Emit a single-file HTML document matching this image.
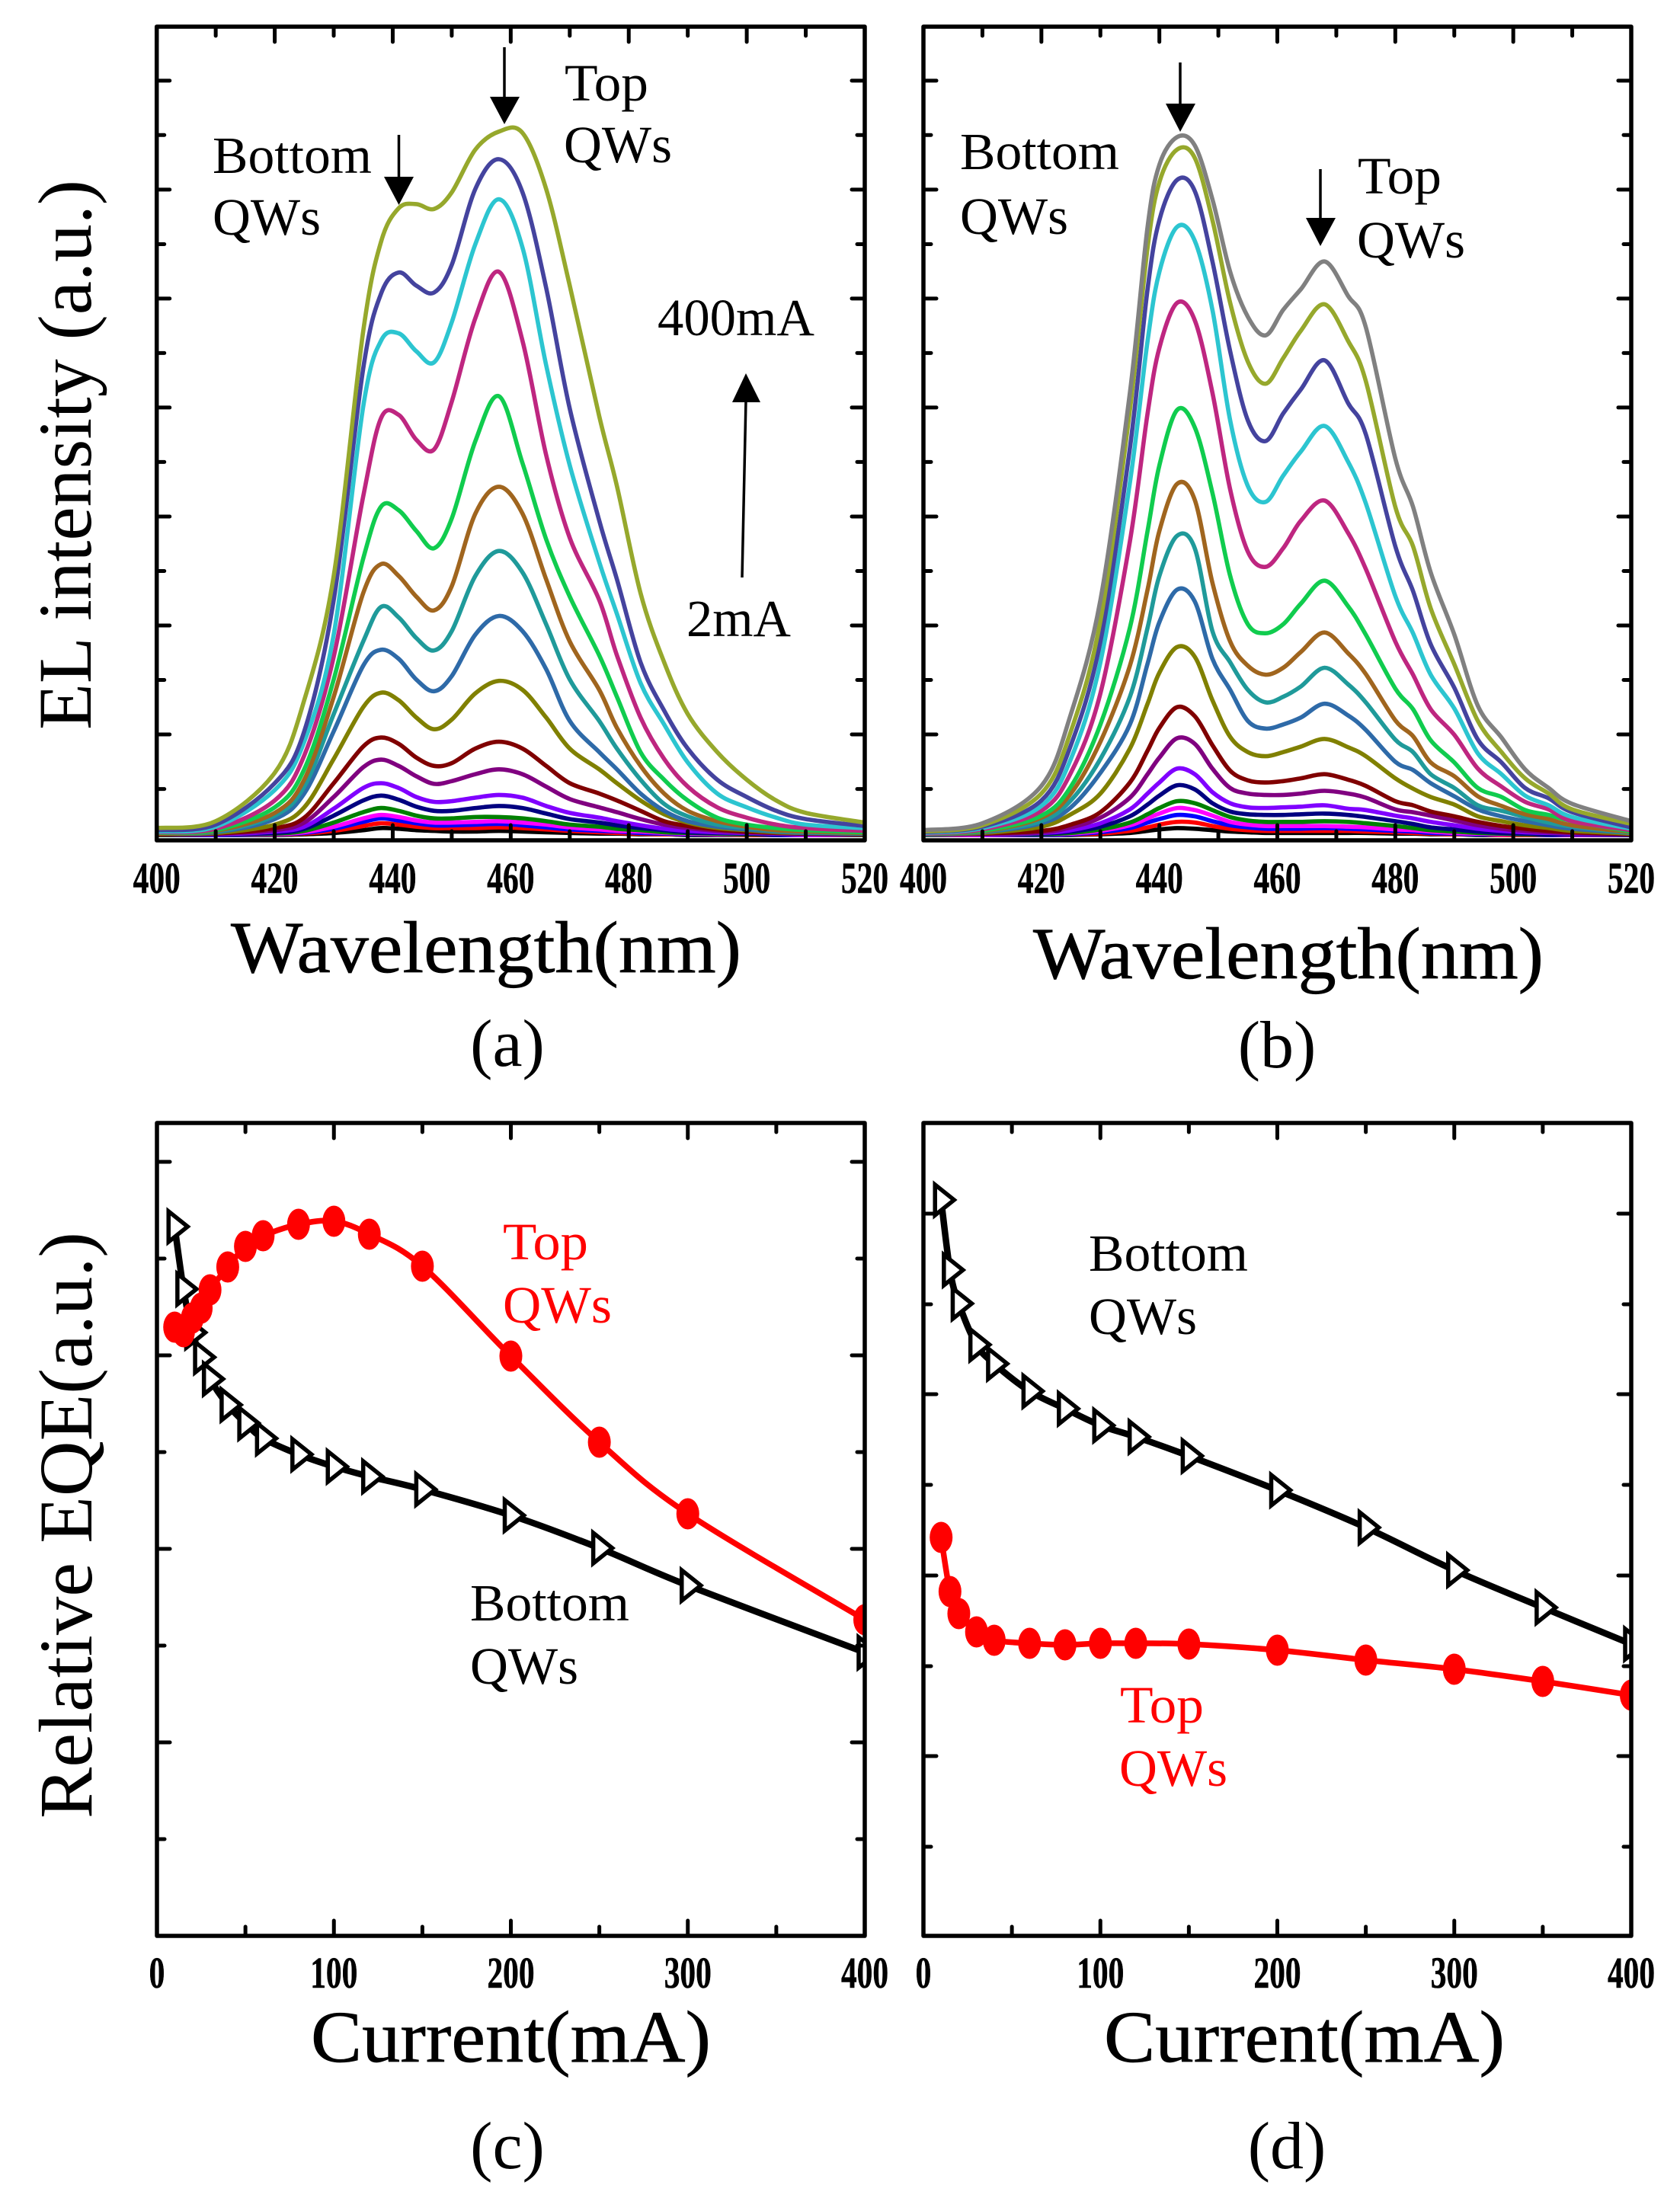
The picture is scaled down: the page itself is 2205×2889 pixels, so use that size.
<!DOCTYPE html>
<html lang="en">
<head>
<meta charset="utf-8">
<title>EL spectra and relative EQE of top and bottom QWs</title>
<style>
html,body{margin:0;padding:0;background:#fff;}
svg{display:block;}
text{font-family:"Liberation Serif","Times New Roman",serif;fill:#000;}
.tick{font-weight:bold;font-size:58px;text-anchor:middle;stroke:#000;stroke-width:0.6px;}
.ann{font-size:69px;}
.red{fill:#f00;}
.axt{font-size:100px;}
.ttl{font-size:96px;stroke:#000;stroke-width:0.7px;}
</style>
</head>
<body>
<svg id="fig" width="2205" height="2889" viewBox="0 0 2205 2889" xmlns="http://www.w3.org/2000/svg">
<defs>
<clipPath id="clipA"><rect x="205.7" y="35" width="929.3" height="1068"/></clipPath>
<clipPath id="clipB"><rect x="1212" y="35" width="929" height="1068"/></clipPath>
<clipPath id="clipC"><rect x="206" y="1474" width="929" height="1067"/></clipPath>
<clipPath id="clipD"><rect x="1212" y="1474" width="929" height="1067"/></clipPath>
</defs>
<g id="panelA"></g>
<g id="panelB"></g>
<g id="panelC"></g>
<g id="panelD"></g>

<text class="axt" transform="translate(119,958) rotate(-90)" textLength="722" lengthAdjust="spacingAndGlyphs">EL intensity (a.u.)</text>
<text class="axt" transform="translate(120,2387) rotate(-90)" textLength="770" lengthAdjust="spacingAndGlyphs">Relative EQE(a.u.)</text>

<text class="ttl" x="303" y="1276" textLength="670" lengthAdjust="spacingAndGlyphs">Wavelength(nm)</text>
<text class="ttl" x="1356" y="1284" textLength="670" lengthAdjust="spacingAndGlyphs">Wavelength(nm)</text>
<text class="ttl" x="408" y="2706" textLength="525" lengthAdjust="spacingAndGlyphs">Current(mA)</text>
<text class="ttl" x="1449" y="2706" textLength="526" lengthAdjust="spacingAndGlyphs">Current(mA)</text>

<text x="666" y="1399" font-size="88" text-anchor="middle">(a)</text>
<text x="1676" y="1401" font-size="88" text-anchor="middle">(b)</text>
<text x="666" y="2846" font-size="88" text-anchor="middle">(c)</text>
<text x="1689" y="2846" font-size="88" text-anchor="middle">(d)</text>

<g>
<text class="ann" x="279" y="227" textLength="209" lengthAdjust="spacingAndGlyphs">Bottom</text>
<text class="ann" x="279" y="308" textLength="142" lengthAdjust="spacingAndGlyphs">QWs</text>
<text class="ann" x="741" y="132" textLength="110" lengthAdjust="spacingAndGlyphs">Top</text>
<text class="ann" x="740" y="213" textLength="142" lengthAdjust="spacingAndGlyphs">QWs</text>
<text class="ann" x="863" y="440" textLength="206" lengthAdjust="spacingAndGlyphs">400mA</text>
<text class="ann" x="901" y="835" textLength="137" lengthAdjust="spacingAndGlyphs">2mA</text>
<g><line x1="662" y1="62" x2="662" y2="130" stroke="#000" stroke-width="3.5"/><polygon points="643,127 682,127 662,163"/></g>
<g><line x1="523.5" y1="177" x2="523.5" y2="236" stroke="#000" stroke-width="3.5"/><polygon points="504,232 543,232 523.5,269"/></g>
<g><line x1="974" y1="758" x2="979" y2="525" stroke="#000" stroke-width="3.5"/><polygon points="961,528 998,528 979,490"/></g>
</g>

<g>
<text class="ann" x="1260" y="222" textLength="209" lengthAdjust="spacingAndGlyphs">Bottom</text>
<text class="ann" x="1260" y="307" textLength="142" lengthAdjust="spacingAndGlyphs">QWs</text>
<text class="ann" x="1782" y="254" textLength="110" lengthAdjust="spacingAndGlyphs">Top</text>
<text class="ann" x="1781" y="338" textLength="142" lengthAdjust="spacingAndGlyphs">QWs</text>
<g><line x1="1549" y1="82" x2="1549" y2="139" stroke="#000" stroke-width="3.5"/><polygon points="1530,136 1569,136 1549,173"/></g>
<g><line x1="1733" y1="222" x2="1733" y2="289" stroke="#000" stroke-width="3.5"/><polygon points="1714,286 1753,286 1733,323"/></g>
</g>

<g>
<text class="ann red" x="660" y="1653" textLength="112" lengthAdjust="spacingAndGlyphs">Top</text>
<text class="ann red" x="660" y="1736" textLength="143" lengthAdjust="spacingAndGlyphs">QWs</text>
<text class="ann" x="617" y="2127" textLength="209" lengthAdjust="spacingAndGlyphs">Bottom</text>
<text class="ann" x="617" y="2210" textLength="142" lengthAdjust="spacingAndGlyphs">QWs</text>
</g>

<g>
<text class="ann" x="1429" y="1668" textLength="209" lengthAdjust="spacingAndGlyphs">Bottom</text>
<text class="ann" x="1429" y="1751" textLength="142" lengthAdjust="spacingAndGlyphs">QWs</text>
<text class="ann red" x="1470" y="2261" textLength="110" lengthAdjust="spacingAndGlyphs">Top</text>
<text class="ann red" x="1469" y="2344" textLength="142" lengthAdjust="spacingAndGlyphs">QWs</text>
</g>
</svg>

<script>
// ---------- Panel (a): EL spectra ----------
const wavelengthsA = [400,410,420,425,430,435,438,441,444,447,450,454,458,462,466,470,475,478,482,486,490,495,500,505,510,520];
const aBlack   = [0,0,0,1,3,7,10,9,7,6,5,5,6,5,4,3,2,2,1,1,0,0,0,0,0,0];
const aRed     = [0,0,1,2,6,13,17,15,12,10,10,10,11,10,8,6,4,3,2,1,1,1,0,0,0,0];
const aBlue    = [0,0,1,3,9,19,24,21,17,14,14,15,16,14,11,8,6,5,3,2,1,1,1,0,0,0];
const aMagenta = [0,1,1,4,12,24,29,26,21,18,18,19,20,18,15,11,8,6,5,3,2,1,1,1,0,0];
const aGreenDk = [0,1,2,6,18,33,39,35,28,24,24,26,26,24,20,15,12,9,7,4,3,2,1,1,1,0];
const aNavy    = [1,1,3,9,28,50,57,51,41,35,35,39,42,39,31,23,18,14,10,7,4,3,2,1,1,1];
const aViolet  = [1,1,5,12,38,68,75,68,55,48,49,54,58,54,42,32,25,20,14,9,6,4,3,2,1,1];
const aPurple  = [1,2,7,18,55,98,109,100,85,74,78,88,95,88,70,52,40,33,23,15,10,6,4,3,2,1];
const aMaroon  = [1,2,10,25,75,128,141,132,112,100,104,125,135,125,100,75,60,50,35,20,13,8,5,3,2,1];
const aOliveDk = [2,3,15,40,110,185,206,195,170,153,167,205,223,210,170,125,95,75,50,30,18,10,7,4,3,2];
const aSteel   = [2,4,23,60,150,245,268,255,225,208,230,290,317,295,240,165,120,95,60,35,20,12,8,5,3,2];
const aTeal    = [2,5,28,70,175,280,330,315,285,267,295,375,411,380,305,225,165,125,80,45,27,15,10,6,4,2];
const aBrown   = [2,6,32,80,200,350,392,375,345,325,360,465,504,465,370,280,210,155,100,60,35,20,12,7,5,3];
const aGreen   = [3,7,40,95,225,400,475,470,440,415,458,570,635,538,428,345,260,200,120,80,50,25,15,10,7,4];
const aCrimson = [4,9,50,115,258,490,603,608,572,558,627,748,815,715,550,430,340,260,170,110,70,40,25,15,10,6];
const aCyan    = [5,12,65,135,290,620,715,726,700,684,742,855,920,850,680,535,395,320,220,160,105,60,40,25,15,10];
const aIndigo  = [7,15,75,150,340,675,783,814,795,785,825,935,978,930,792,617,455,370,250,180,125,80,55,35,23,13];
const aOlive   = [10,20,90,195,375,729,858,907,913,906,930,992,1018,1016,935,795,606,505,350,250,175,120,80,50,32,18];

// ---------- Panel (b): EL spectra ----------
const wavelengthsB = [400,410,420,425,430,435,438,440,443,446,449,452,455,458,461,464,468,472,475,480,483,486,490,494,498,502,506,510,520];
const bBlack   = [0,0,0,0,1,3,6,8,10,9,7,5,4,3,3,3,3,3,3,2,2,1,1,0,0,0,0,0,0];
const bRed     = [0,0,0,1,2,6,11,15,19,18,13,9,7,6,6,6,6,6,5,4,3,2,1,1,0,0,0,0,0];
const bBlue    = [0,0,0,1,4,10,18,23,29,27,20,14,11,9,9,9,10,9,8,6,5,3,2,1,1,1,0,0,0];
const bMagenta = [0,0,1,2,6,14,24,31,39,36,28,19,15,13,13,13,13,12,11,8,7,5,3,2,1,1,1,0,0];
const bGreenDk = [0,1,1,3,8,18,30,39,49,46,36,26,21,19,19,19,20,19,17,13,10,7,5,3,2,1,1,1,0];
const bNavy    = [1,1,2,5,12,27,44,57,72,66,46,34,30,29,29,30,31,29,26,20,16,11,8,5,3,2,1,1,0];
const bViolet  = [1,1,3,7,17,37,60,76,96,88,62,46,40,39,40,41,43,38,36,28,24,19,14,9,6,4,3,2,1];
const bPurple  = [1,2,4,11,25,54,88,112,140,132,96,68,60,58,58,60,64,60,54,37,33,28,21,14,9,6,4,3,1];
const bMaroon  = [1,2,6,15,33,76,122,155,185,172,130,93,79,76,78,82,88,80,71,49,43,34,27,19,13,9,6,4,1];
const bOliveDk = [1,3,12,30,60,125,190,235,272,258,195,142,120,114,120,128,139,127,114,82,67,55,44,27,20,14,10,6,2];
const bSteel   = [1,4,17,40,90,160,248,308,355,338,255,210,165,154,160,170,190,173,152,106,94,75,56,37,27,20,14,9,3];
const bTeal    = [2,5,20,50,110,200,300,375,433,415,295,250,210,192,200,215,242,218,192,138,120,88,68,43,35,26,18,12,3];
const bBrown   = [2,5,25,60,135,245,355,440,508,485,365,280,245,232,242,265,293,263,233,166,143,105,85,56,42,30,23,14,4];
const bGreen   = [2,6,28,70,160,300,440,535,615,590,495,375,305,292,305,335,368,331,290,212,182,137,105,68,55,36,29,20,5];
const bCrimson = [2,8,35,90,205,425,610,705,770,745,640,500,410,388,415,455,484,437,385,280,232,182,145,96,70,48,37,20,7];
const bCyan    = [3,10,42,110,250,510,715,815,880,860,760,600,505,482,520,555,592,540,480,346,292,232,183,118,88,57,43,26,9];
const bIndigo  = [4,12,50,130,280,560,790,890,948,932,830,700,600,570,610,645,687,625,580,418,353,276,213,138,105,68,53,33,11];
const bOlive   = [5,14,60,150,310,615,850,945,992,980,890,770,685,653,690,730,768,715,657,475,418,328,247,165,120,82,60,37,16];
const bGray    = [7,17,71,175,340,640,880,970,1010,998,920,815,750,723,760,790,830,780,735,545,475,380,290,187,141,95,68,45,20];

// ---------- Panel (c): relative EQE ----------
const currentsC = [10,15,20,25,30,40,50,60,80,100,120,150,200,250,300,400];
const cTopQWs    = [799,793,811,824,848,878,905,919,934,938,921,879,761,648,554,415];
const cBottomQWs = [931,849,792,759.5,731,697,673,653,632,616,603,586,552,509,460,372];

// ---------- Panel (d): relative EQE ----------
const currentsD = [10,15,20,30,40,60,80,100,120,150,200,250,300,350,400];
const dTopQWs    = [523,452,423,399,388,384,382,384,384,383,375,362,350,334,316];
const dBottomQWs = [966,874,830,776,751,715,692,670,655,630,585,536,480,431,383];

// ---------- Tick labels and tick values ----------
const wavelengthTickLabels = [400,420,440,460,480,500,520];
const wavelengthMinorTicks = [410,430,450,470,490,510];
const currentTickLabels = [0,100,200,300,400];
const currentMinorTicks = [50,150,250,350];
const spectraLongTicks  = [145.5,303.2,460.9,618.6,776.3,934,1091.7];
const spectraShortTicks = [66.6,224.4,382,539.8,697.5,855,1013];
const eqeLongTicksC  = [1016,762,508,254];
const eqeShortTicksC = [889,635,381,127];
const eqeLongTicksD  = [948,711,473,236];
const eqeShortTicksD = [829,592,354,117];

// Draw order: low current first, high current on top
const seriesA = [aBlack,aRed,aBlue,aMagenta,aGreenDk,aNavy,aViolet,aPurple,aMaroon,aOliveDk,aSteel,aTeal,aBrown,aGreen,aCrimson,aCyan,aIndigo,aOlive];
const seriesB = [bBlack,bRed,bBlue,bMagenta,bGreenDk,bNavy,bViolet,bPurple,bMaroon,bOliveDk,bSteel,bTeal,bBrown,bGreen,bCrimson,bCyan,bIndigo,bOlive,bGray];
const seriesColors = ['#000000','#ff0000','#0000ff','#ff00ff','#008000','#000080','#8000ff','#800080','#800000','#808000','#2e6aa8','#1f9a9a','#a0651e','#10cc4e','#be2680','#2cc5d0','#44439e','#96a82c','#808080'];

const SVGNS = 'http://www.w3.org/2000/svg';
function make(tag, attrs, parent){
  const el = document.createElementNS(SVGNS, tag);
  for (const k in attrs) el.setAttribute(k, attrs[k]);
  parent.appendChild(el);
  return el;
}
function splinePath(pts){
  let d = 'M' + pts[0][0].toFixed(1) + ' ' + pts[0][1].toFixed(1);
  for (let i = 0; i < pts.length - 1; i++){
    const p0 = pts[Math.max(i-1,0)], p1 = pts[i], p2 = pts[i+1], p3 = pts[Math.min(i+2,pts.length-1)];
    const t = 1/6;
    const c1x = p1[0] + (p2[0]-p0[0])*t, c1y = p1[1] + (p2[1]-p0[1])*t;
    const c2x = p2[0] - (p3[0]-p1[0])*t, c2y = p2[1] - (p3[1]-p1[1])*t;
    d += 'C' + c1x.toFixed(1) + ' ' + c1y.toFixed(1) + ' ' + c2x.toFixed(1) + ' ' + c2y.toFixed(1) + ' ' + p2[0].toFixed(1) + ' ' + p2[1].toFixed(1);
  }
  return d;
}
function drawAxes(g, L, R, T, B, xFn, yFn, xMajor, xMinor, yLong, yShort, labelY){
  const axes = make('g', {}, g);
  
  
  const tick = function(x1,y1,x2,y2,w){
    const t = make('line', {x1:x1,y1:y1,x2:x2,y2:y2,stroke:'#000','stroke-width':w,'stroke-linecap':'round'}, axes);
    
    
  };
  xMajor.forEach(function(v){
    const x = xFn(v);
    tick(x,B,x,B-20,5); tick(x,T,x,T+20,5);
    const lab = make('text', {x:x,y:labelY,'class':'tick',textLength:String(v).length*20.7,lengthAdjust:'spacingAndGlyphs'}, g);
    lab.textContent = String(v);
    
    
  });
  xMinor.forEach(function(v){
    const x = xFn(v);
    tick(x,B,x,B-12,5); tick(x,T,x,T+12,5);
  });
  yLong.forEach(function(v){
    const y = yFn(v);
    tick(L,y,L+17,y,5); tick(R,y,R-17,y,5);
  });
  yShort.forEach(function(v){
    const y = yFn(v);
    tick(L,y,L+10,y,5); tick(R,y,R-10,y,5);
  });
  const frame = make('rect', {x:L,y:T,width:R-L,height:B-T,fill:'none',stroke:'#000','stroke-width':5.5,'stroke-linejoin':'round'}, axes);
  
  
}
function drawSpectra(gid, clip, L, R, wl, series, yLong, yShort){
  const g = document.getElementById(gid);
  const T = 35, B = 1103;
  const xFn = function(w){ return L + (w-400)*(R-L)/120; };
  const yFn = function(v){ return 1096 - v*0.907; };
  const lines = make('g', {'clip-path':'url(#'+clip+')'}, g);
  
  
  series.forEach(function(vals, i){
    const pts = vals.map(function(v, j){ return [xFn(wl[j]), yFn(v)]; });
    const p = make('path', {d:splinePath(pts),fill:'none',stroke:seriesColors[i],'stroke-width':5.6,'stroke-linejoin':'round'}, lines);
    
    
  });
  drawAxes(g, L, R, T, B, xFn, yFn, wavelengthTickLabels, wavelengthMinorTicks, yLong, yShort, 1172);
}
function drawEqe(gid, clip, L, R, currents, top, bottom, yLong, yShort){
  const g = document.getElementById(gid);
  const T = 1474, B = 2541;
  const xFn = function(c){ return L + c*(R-L)/400; };
  const yFn = function(v){ return B - v; };
  const plot = make('g', {'clip-path':'url(#'+clip+')'}, g);
  
  
  // Bottom QWs: black line with open triangles
  const bpts = bottom.map(function(v, j){ return [xFn(currents[j]), yFn(v)]; });
  const bl = make('path', {d:splinePath(bpts),fill:'none',stroke:'#000','stroke-width':8.5}, plot);
  
  
  bpts.forEach(function(p){
    const x = p[0], y = p[1];
    const tri = make('polygon', {points:(x-8)+','+(y-20)+' '+(x+17)+','+y+' '+(x-8)+','+(y+20),fill:'#fff',stroke:'#000','stroke-width':5.5,'stroke-linejoin':'miter','stroke-miterlimit':10}, plot);
    
    
  });
  // Top QWs: red line with filled circles
  const tpts = top.map(function(v, j){ return [xFn(currents[j]), yFn(v)]; });
  const tl = make('path', {d:splinePath(tpts),fill:'none',stroke:'#f00','stroke-width':7.5}, plot);
  
  
  tpts.forEach(function(p){
    const c = make('ellipse', {cx:p[0],cy:p[1],rx:15,ry:20.5,fill:'#f00'}, plot);
    
    
  });
  drawAxes(g, L, R, T, B, xFn, yFn, currentTickLabels, currentMinorTicks, yLong, yShort, 2609);
}
drawSpectra('panelA','clipA',205.7,1135,wavelengthsA,seriesA,spectraLongTicks,spectraShortTicks);
drawSpectra('panelB','clipB',1212,2141,wavelengthsB,seriesB,spectraLongTicks,spectraShortTicks);
drawEqe('panelC','clipC',206,1135,currentsC,cTopQWs,cBottomQWs,eqeLongTicksC,eqeShortTicksC);
drawEqe('panelD','clipD',1212,2141,currentsD,dTopQWs,dBottomQWs,eqeLongTicksD,eqeShortTicksD);
</script>
</body>
</html>
